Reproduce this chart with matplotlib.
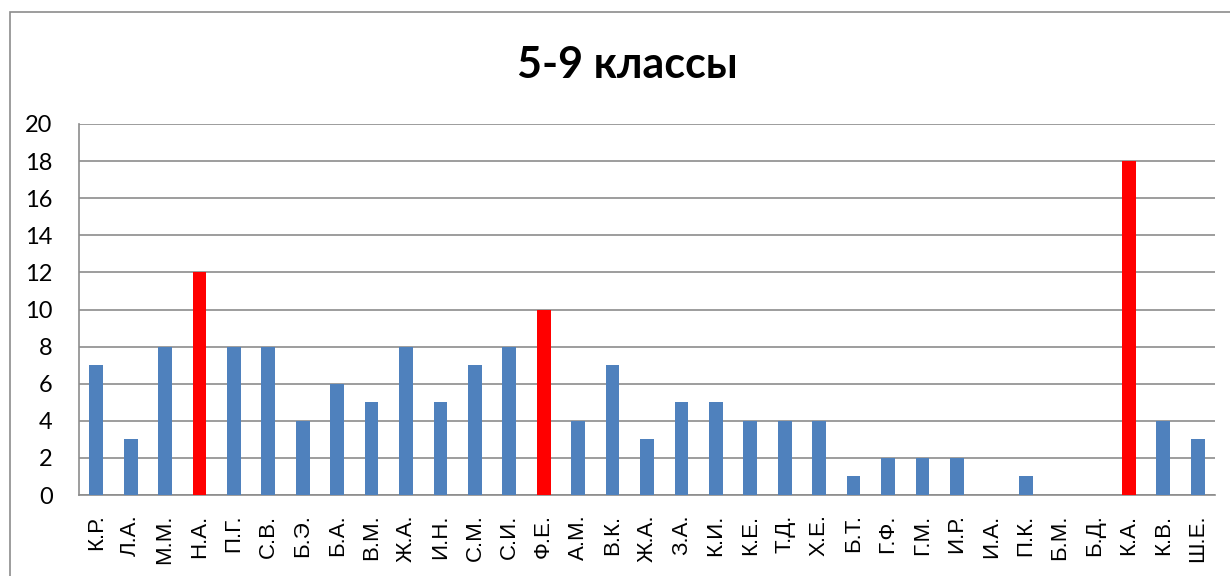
import matplotlib.pyplot as plt
from matplotlib.patches import Rectangle

# data
names = ['К.Р.', 'Л.А.', 'М.М.', 'Н.А.', 'П.Г.', 'С.В.', 'Б.Э.', 'Б.А.', 'В.М.',
         'Ж.А.', 'И.Н.', 'С.М.', 'С.И.', 'Ф.Е.', 'А.М.', 'В.К.', 'Ж.А.', 'З.А.',
         'К.И.', 'К.Е.', 'Т.Д.', 'Х.Е.', 'Б.Т.', 'Г.Ф.', 'Г.М.', 'И.Р.', 'И.А.',
         'П.К.', 'Б.М.', 'Б.Д.', 'К.А.', 'К.В.', 'Ш.Е.']
scores = [7, 3, 8, 12, 8, 8, 4, 6, 5, 8, 5, 7, 8, 10, 4, 7, 3, 5,
          5, 4, 4, 4, 1, 2, 2, 2, 0, 1, 0, 0, 18, 4, 3]
highlight = ['Н.А.', 'Ф.Е.', 'К.А.']
y_ticks = [0, 2, 4, 6, 8, 10, 12, 14, 16, 18, 20]

blue = '#4F81BD'
red = '#FF0000'
colors = [red if n in highlight else blue for n in names]

fig = plt.figure(figsize=(12.3, 5.76), dpi=100)
ax = fig.add_axes([79 / 1230, 1 - 495 / 576, (1215 - 79) / 1230, (495 - 124) / 576])

# outer chart frame (runs off the right and bottom edge)
fig.patches.append(Rectangle((10 / 1230, -0.1), 1.2, 1 - 12 / 576 + 0.1,
                             transform=fig.transFigure, fill=False,
                             edgecolor='#8c8c8c', linewidth=1.2))

x = range(len(names))
ax.bar(x, scores, width=0.4, color=colors, zorder=3)

ax.set_xlim(-0.5, len(names) - 0.5)
ax.set_ylim(0, 20)
ax.set_yticks(y_ticks)
ax.set_yticklabels([str(v) for v in y_ticks], family='Lato', fontsize=17)
ax.set_xticks(list(x))
ax.set_xticklabels(names, rotation=90, family='Liberation Sans', fontsize=16)
ax.tick_params(length=0)
ax.tick_params(axis='y', pad=19)
ax.tick_params(axis='x', pad=14)

ax.grid(axis='y', color='#8c8c8c', linewidth=1.2, zorder=0)
for s in ['top', 'right']:
    ax.spines[s].set_visible(False)
for s in ['left', 'bottom']:
    ax.spines[s].set_color('#8c8c8c')
    ax.spines[s].set_linewidth(1.2)

fig.text(627 / 1230, 1 - 65 / 576, '5-9 классы', ha='center', va='center',
         family='Lato', fontweight='bold', fontsize=31)

fig.savefig('out.png', dpi=100)
